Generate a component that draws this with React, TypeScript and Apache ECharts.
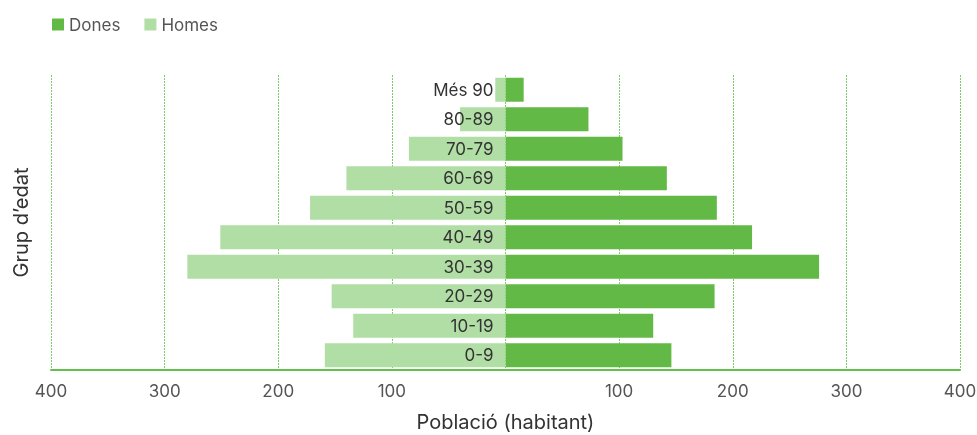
import React, { useEffect, useRef } from "react";
import * as echarts from "echarts";

const categories = ["0-9", "10-19", "20-29", "30-39", "40-49", "50-59", "60-69", "70-79", "80-89", "Més 90"];
const dones = [146, 130, 184, 276, 217, 186, 142, 103, 73, 16];
const homes = [159, 134, 153, 280, 251, 172, 140, 85, 40, 9];
const xTicks = [-400, -300, -200, -100, 0, 100, 200, 300, 400];

const FONT = "Inter, 'Noto Sans', sans-serif";
const DARK = "#62b946";
const LIGHT = "#b1dea5";

const W = 977;
const H = 435;
const GRID_LEFT = 51;
const GRID_RIGHT = 17;

export default function App() {
  const ref = useRef<HTMLDivElement>(null);
  useEffect(() => {
    if (!ref.current) return;
    const chart = echarts.init(ref.current, null, { renderer: "svg" });
    const plotW = W - GRID_LEFT - GRID_RIGHT;
    chart.setOption({
      animation: false,
      textStyle: { fontFamily: FONT },
      legend: {
        left: 52,
        top: 16,
        padding: 0,
        itemWidth: 12,
        itemHeight: 12,
        itemGap: 24,
        icon: "rect",
        textStyle: { fontSize: 17, color: "#555", fontFamily: FONT },
        data: ["Dones", "Homes"],
      },
      grid: { left: GRID_LEFT, right: GRID_RIGHT, top: 75, bottom: 65, outerBoundsMode: "none", containLabel: false },
      xAxis: {
        type: "value",
        min: xTicks[0],
        max: xTicks[xTicks.length - 1],
        interval: 100,
        axisLine: { show: true, lineStyle: { color: "#62c14a", width: 2 } },
        axisTick: { show: false },
        axisLabel: {
          margin: 12,
          fontSize: 17,
          color: "#555",
          fontFamily: FONT,
          formatter: (v: number) => (v === 0 ? "" : String(Math.abs(v))),
        },
        splitLine: { show: true, lineStyle: { type: [2, 1], color: "#7ccd68", width: 1 } },
        name: "Població (habitant)",
        nameLocation: "middle",
        nameGap: 42,
        nameTextStyle: { fontSize: 20, color: "#333", fontFamily: FONT },
      },
      yAxis: [
        {
          type: "category",
          data: categories,
          z: 10,
          position: "left",
          offset: -plotW / 2,
          axisLine: { show: false, onZero: false },
          axisTick: { show: false },
          axisLabel: { margin: 12, fontSize: 17, color: "#333", fontFamily: FONT },
        },
        {
          type: "category",
          data: categories,
          position: "left",
          axisLine: { show: false, onZero: false },
          axisTick: { show: false },
          axisLabel: { show: false },
          name: "Grup d’edat",
          nameLocation: "middle",
          nameGap: 20,
          nameTextStyle: { fontSize: 20, color: "#333", fontFamily: FONT },
        },
      ],
      series: [
        {
          name: "Dones",
          type: "bar",
          stack: "total",
          barWidth: 24,
          itemStyle: { color: DARK },
          data: dones,
        },
        {
          name: "Homes",
          type: "bar",
          stack: "total",
          barWidth: 24,
          itemStyle: { color: LIGHT },
          data: homes.map((v) => -v),
        },
      ],
    });
    return () => chart.dispose();
  }, []);
  return (
    <div
      ref={ref}
      style={{ position: "fixed", left: 0, top: 0, width: W, height: H }}
    />
  );
}
